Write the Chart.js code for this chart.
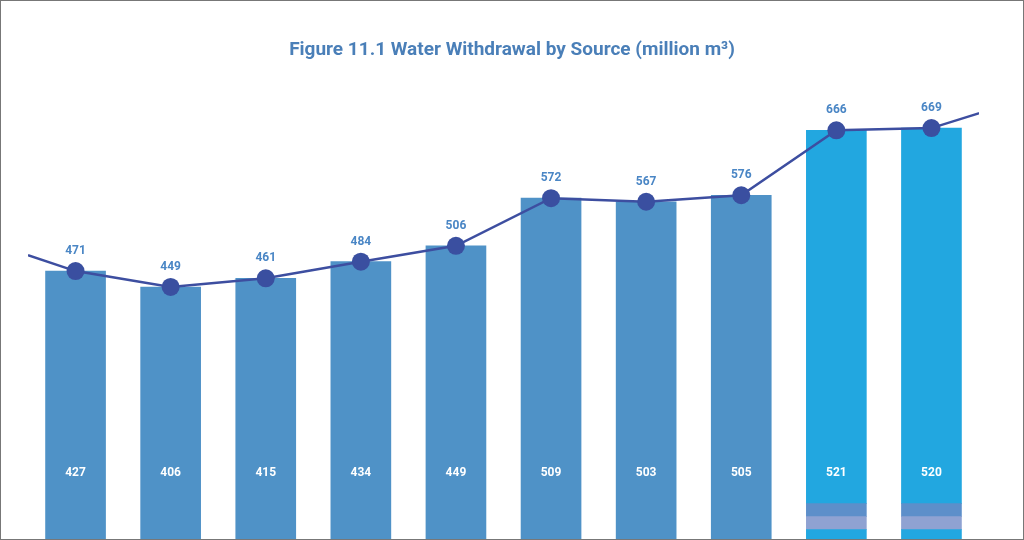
<!DOCTYPE html>
<html><head><meta charset="utf-8">
<script src="https://cdn.jsdelivr.net/npm/chart.js@4/dist/chart.umd.min.js"></script>
<style>
html,body{margin:0;padding:0;background:#fff;}
#wrap{position:relative;width:1024px;height:540px;box-sizing:border-box;border:1px solid #777;overflow:hidden;}
#title{position:absolute;left:0;right:0;top:36px;text-align:center;font:bold 19px Roboto,sans-serif;color:#4a7fb8;z-index:2;}
canvas{position:absolute;left:0;top:0;}
</style></head><body>
<div id="wrap"><div id="title">Figure 11.1 Water Withdrawal by Source (million m³)</div>
<canvas id="c" width="1022" height="538"></canvas></div>
<script>
const categories = ['1','2','3','4','5','6','7','8','9','10'];
const totals = [471,449,461,484,506,572,567,576,666,669];
const innerLabels = [427,406,415,434,449,509,503,505,521,520];
// stacked segments (bottom part of the last two bars is cut off in the picture)
const segBottom = [0,0,0,0,0,0,0,0,113,113];
const segLavender = [0,0,0,0,0,0,0,0,18,18];
const segGrey = [0,0,0,0,0,0,0,0,18,18];
const segTop = [471,449,461,484,506,572,567,576,517,520];
const lineX = [-0.5,0,1,2,3,4,5,6,7,8,9,9.63];
const lineY = [493,471,449,461,484,506,572,567,576,666,669,695];
const topColors = segTop.map((v,i)=> i>=8 ? '#22a7e0' : '#4f92c7');

const labelsPlugin = {
  id:'lbl',
  afterDatasetsDraw(chart){
    const ctx=chart.ctx, x=chart.scales.x, y=chart.scales.y;
    ctx.save();
    ctx.textAlign='center';
    ctx.font='bold 12px Roboto, sans-serif';
    totals.forEach((v,i)=>{
      const px=x.getPixelForValue(i), py=y.getPixelForValue(v);
      ctx.fillStyle='#4a86c5';
      ctx.textBaseline='bottom';
      ctx.fillText(String(v),px,py-14);
      ctx.fillStyle='#ffffff';
      ctx.textBaseline='middle';
      ctx.fillText(String(innerLabels[i]),px,y.getPixelForValue(192));
    });
    ctx.restore();
  }
};

new Chart(document.getElementById('c'),{
  data:{
    labels:categories,
    datasets:[
      {type:'line',xAxisID:'x2',data:lineX.map((v,i)=>({x:v,y:lineY[i]})),
       borderColor:'#3d4ea0',borderWidth:2.5,
       pointRadius:lineX.map(v=>Number.isInteger(v)?9:0),pointHoverRadius:0,
       pointBackgroundColor:'#3a4fa0',pointBorderWidth:0,order:0},
      {type:'bar',data:segBottom,backgroundColor:'#22a7e0',stack:'s',order:1},
      {type:'bar',data:segLavender,backgroundColor:'#8fa2d2',stack:'s',order:1},
      {type:'bar',data:segGrey,backgroundColor:'#5d8fca',stack:'s',order:1},
      {type:'bar',data:segTop,backgroundColor:topColors,stack:'s',order:1}
    ]
  },
  options:{
    responsive:false,animation:false,
    layout:{padding:{left:27,right:44,top:0,bottom:0}},
    datasets:{bar:{barThickness:60,grouped:false,borderWidth:0}},
    plugins:{legend:{display:false},tooltip:{enabled:false}},
    scales:{
      x:{display:false,stacked:true,offset:true},
      x2:{type:'linear',display:false,min:-0.5,max:9.5},
      y:{display:false,stacked:true,min:100,max:845}
    }
  },
  plugins:[labelsPlugin]
});
</script></body></html>
